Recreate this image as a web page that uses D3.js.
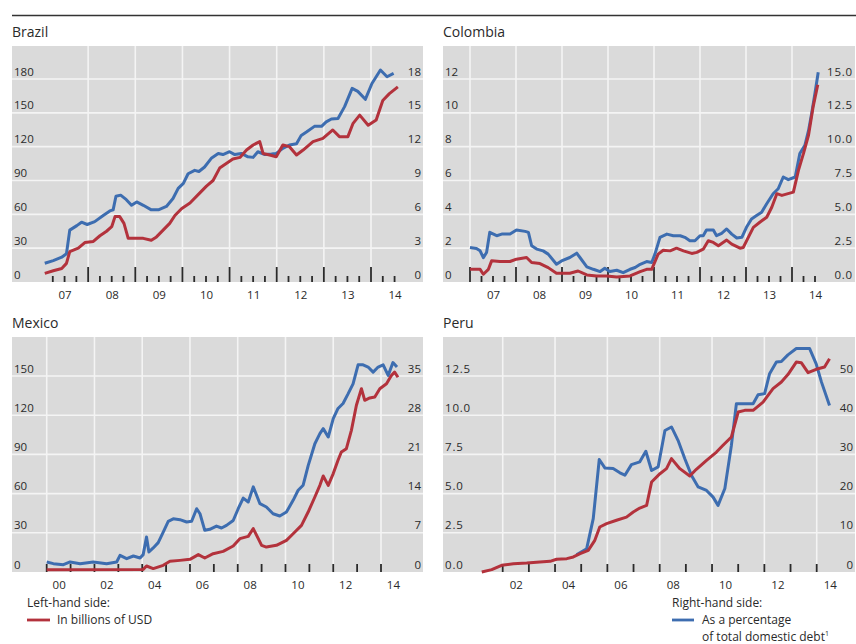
<!DOCTYPE html>
<html>
<head>
<meta charset="utf-8">
<script src="https://cdn.jsdelivr.net/npm/d3@7"></script>
<style>
  html, body { margin: 0; padding: 0; background: #fff; }
  svg { display: block; font-family: "Open Sans", "Liberation Sans", Arial, sans-serif; }
</style>
</head>
<body>
<svg id="chart" width="856" height="644"></svg>
<script>
// ---- Data: [decimal year, value] ----
// Brazil: USD bn (left), % of total domestic debt (right)
const brazilUsd = [[2007.08,7.7],[2007.26,10],[2007.44,12],[2007.54,16.5],[2007.61,27],[2007.79,30],[2007.93,35],[2008.11,36],[2008.25,41],[2008.39,45],[2008.5,49],[2008.57,58],[2008.67,58],[2008.76,52],[2008.85,38.7],[2008.99,38.7],[2009.17,38.7],[2009.34,37],[2009.45,40],[2009.59,46],[2009.73,52],[2009.84,59],[2009.98,65],[2010.16,70],[2010.37,79],[2010.51,85],[2010.65,90],[2010.79,101],[2010.93,105],[2011.07,109],[2011.22,110.5],[2011.36,117],[2011.5,121.5],[2011.64,124.5],[2011.71,114],[2011.85,112.6],[2011.99,111],[2012.13,121.5],[2012.27,120],[2012.42,112.6],[2012.56,117],[2012.77,124.5],[2012.98,127.4],[2013.19,134.8],[2013.33,128.9],[2013.51,128.9],[2013.62,140.7],[2013.76,148],[2013.94,139],[2014.11,143.7],[2014.25,161],[2014.39,167],[2014.57,173]];
const brazilPct = [[2007.08,1.66],[2007.26,1.9],[2007.44,2.2],[2007.54,2.5],[2007.61,4.6],[2007.76,5.0],[2007.86,5.3],[2007.98,5.1],[2008.14,5.35],[2008.32,5.9],[2008.46,6.3],[2008.53,6.4],[2008.59,7.6],[2008.69,7.7],[2008.81,7.3],[2008.92,6.8],[2009.03,7.1],[2009.17,6.8],[2009.34,6.4],[2009.49,6.4],[2009.66,6.7],[2009.8,7.4],[2009.91,8.3],[2010.02,8.75],[2010.12,9.6],[2010.26,9.9],[2010.35,9.8],[2010.47,10.2],[2010.62,11.0],[2010.76,11.4],[2010.86,11.3],[2011.0,11.55],[2011.11,11.3],[2011.25,11.4],[2011.39,11.1],[2011.5,11.05],[2011.6,11.55],[2011.75,11.3],[2011.89,11.35],[2011.99,11.4],[2012.13,11.85],[2012.27,12.15],[2012.42,12.25],[2012.52,13.0],[2012.63,13.3],[2012.8,13.8],[2012.95,13.8],[2013.05,14.2],[2013.16,14.45],[2013.3,14.5],[2013.44,15.55],[2013.6,17.17],[2013.72,16.9],[2013.88,16.2],[2014.02,17.6],[2014.2,18.8],[2014.34,18.2],[2014.48,18.5]];

// Colombia
const colombiaUsd = [[2007.0,0.75],[2007.22,0.75],[2007.29,0.46],[2007.4,0.75],[2007.47,1.25],[2007.65,1.21],[2007.87,1.21],[2008.01,1.35],[2008.23,1.45],[2008.34,1.15],[2008.52,1.09],[2008.7,0.85],[2008.88,0.52],[2009.17,0.52],[2009.35,0.65],[2009.54,0.42],[2009.75,0.36],[2009.97,0.36],[2010.19,0.3],[2010.48,0.36],[2010.7,0.61],[2010.84,0.75],[2010.95,0.75],[2011.09,1.65],[2011.2,1.88],[2011.35,1.84],[2011.49,2.0],[2011.64,1.84],[2011.82,1.69],[2011.93,1.75],[2012.07,1.94],[2012.18,2.44],[2012.29,2.34],[2012.4,2.14],[2012.58,2.48],[2012.69,2.24],[2012.87,2.0],[2012.94,2.04],[2013.05,2.64],[2013.16,3.23],[2013.3,3.53],[2013.45,3.83],[2013.56,4.42],[2013.67,5.22],[2013.78,5.12],[2014.03,5.31],[2014.14,6.6],[2014.25,7.6],[2014.36,8.69],[2014.46,10.37],[2014.56,11.66]];
const colombiaPct = [[2007.0,2.55],[2007.14,2.48],[2007.22,2.3],[2007.29,1.8],[2007.36,2.18],[2007.43,3.67],[2007.58,3.42],[2007.69,3.54],[2007.87,3.54],[2008.01,3.84],[2008.2,3.74],[2008.27,3.67],[2008.34,2.68],[2008.45,2.43],[2008.59,2.3],[2008.7,2.06],[2008.88,1.31],[2008.99,1.56],[2009.17,1.81],[2009.32,2.13],[2009.39,1.81],[2009.54,1.12],[2009.68,0.94],[2009.83,0.77],[2009.93,1.02],[2010.04,0.77],[2010.19,0.87],[2010.33,0.69],[2010.48,0.94],[2010.59,1.07],[2010.7,1.31],[2010.84,1.51],[2010.95,1.44],[2011.02,2.06],[2011.13,3.3],[2011.28,3.54],[2011.42,3.42],[2011.57,3.42],[2011.67,3.3],[2011.78,3.05],[2011.89,3.05],[2012.0,3.42],[2012.07,3.42],[2012.14,3.84],[2012.29,3.84],[2012.36,3.42],[2012.47,3.6],[2012.58,3.92],[2012.69,3.54],[2012.8,3.25],[2012.91,3.3],[2013.01,4.04],[2013.12,4.66],[2013.23,4.91],[2013.34,5.16],[2013.45,5.78],[2013.59,6.52],[2013.7,6.89],[2013.81,7.76],[2013.92,7.56],[2014.07,7.76],[2014.17,9.5],[2014.28,10.1],[2014.36,11.2],[2014.43,12.5],[2014.5,13.96],[2014.57,15.5]];

// Mexico
const mexicoUsd = [[2000.0,1.8],[2004.04,2],[2004.18,4.6],[2004.46,2.6],[2004.88,5.1],[2005.16,8.2],[2005.58,8.9],[2006.0,9.7],[2006.35,13.3],[2006.62,10.7],[2006.97,14.0],[2007.39,15.8],[2007.81,19.9],[2008.09,25.5],[2008.44,27.3],[2008.65,33.2],[2008.86,25.5],[2009.0,20.4],[2009.2,19.1],[2009.62,20.4],[2010.04,24.2],[2010.32,29.3],[2010.67,35.7],[2010.95,45.9],[2011.23,57.4],[2011.44,66.3],[2011.58,73.5],[2011.79,66.3],[2012.0,75.3],[2012.2,85.5],[2012.34,91.8],[2012.55,94.4],[2012.76,108.4],[2012.97,127.6],[2013.18,140.3],[2013.32,131.4],[2013.53,133.2],[2013.74,134],[2013.95,140.3],[2014.23,144],[2014.44,150.5],[2014.57,153],[2014.71,149]];
const mexicoPct = [[2000.0,1.79],[2000.28,1.49],[2000.7,1.31],[2000.98,1.79],[2001.4,1.49],[2001.95,1.79],[2002.51,1.49],[2002.93,1.79],[2003.07,2.98],[2003.35,2.38],[2003.63,2.86],[2003.91,2.5],[2004.04,3.1],[2004.18,6.25],[2004.28,3.57],[2004.46,4.3],[2004.67,5.24],[2004.88,7.14],[2005.09,9.05],[2005.3,9.5],[2005.58,9.35],[2005.86,8.93],[2006.07,9.05],[2006.28,11.3],[2006.42,10.4],[2006.62,7.44],[2006.83,7.62],[2007.11,8.2],[2007.32,7.86],[2007.53,8.33],[2007.81,9.2],[2008.02,11.3],[2008.23,13.2],[2008.44,12.5],[2008.65,15.2],[2008.79,13.7],[2008.93,12.2],[2009.2,11.6],[2009.48,10.4],[2009.76,10.0],[2010.04,10.7],[2010.32,12.8],[2010.53,14.6],[2010.74,15.5],[2010.95,19.0],[2011.23,22.9],[2011.44,24.7],[2011.58,25.6],[2011.79,24.1],[2012.0,27.4],[2012.2,29.2],[2012.41,30.1],[2012.62,31.8],[2012.83,33.6],[2013.04,37.0],[2013.25,37.0],[2013.46,36.6],[2013.67,35.7],[2013.88,36.6],[2014.09,37.0],[2014.3,35.1],[2014.5,37.4],[2014.67,36.6]];

// Peru
const peruUsd = [[2001.2,0],[2001.58,0.15],[2001.96,0.43],[2002.41,0.53],[2002.92,0.57],[2003.42,0.64],[2003.81,0.68],[2004.06,0.81],[2004.45,0.85],[2004.7,0.96],[2004.96,1.17],[2005.27,1.38],[2005.52,2.02],[2005.71,2.87],[2005.97,3.08],[2006.35,3.3],[2006.73,3.5],[2006.99,3.83],[2007.24,4.08],[2007.5,4.25],[2007.69,5.74],[2008.01,6.27],[2008.26,6.59],[2008.45,7.23],[2008.77,6.59],[2009.15,6.12],[2009.4,6.55],[2009.79,7.12],[2010.17,7.65],[2010.42,8.08],[2010.74,8.61],[2011.0,10.2],[2011.25,10.31],[2011.57,10.31],[2011.95,10.84],[2012.33,11.69],[2012.65,12.12],[2012.9,12.59],[2013.22,13.39],[2013.41,13.35],[2013.67,12.71],[2013.98,12.93],[2014.3,13.07],[2014.49,13.6]];
const peruPct = [[2004.82,4.42],[2005.21,5.95],[2005.46,13.6],[2005.69,28.7],[2005.91,26.5],[2006.22,26.4],[2006.48,25.3],[2006.67,24.7],[2006.92,27.4],[2007.24,28.1],[2007.47,30.8],[2007.69,25.9],[2007.94,26.8],[2008.2,36.1],[2008.45,37.0],[2008.7,33.6],[2008.96,28.9],[2009.21,24.7],[2009.47,21.7],[2009.79,20.8],[2010.04,19.1],[2010.23,17.0],[2010.49,21.3],[2010.74,32.3],[2010.93,42.9],[2011.25,42.9],[2011.57,42.9],[2011.76,45.2],[2012.01,45.5],[2012.2,50.6],[2012.46,53.6],[2012.65,53.7],[2012.9,55.4],[2013.22,57.0],[2013.73,57.0],[2013.98,53.1],[2014.18,48.5],[2014.49,42.5]];

// Tick labels
const brazilLeftTicks = [0, 30, 60, 90, 120, 150, 180];
const brazilRightTicks = [0, 3, 6, 9, 12, 15, 18];
const colombiaLeftTicks = [0, 2, 4, 6, 8, 10, 12];
const colombiaRightTicks = [0, 2.5, 5, 7.5, 10, 12.5, 15];
const mexicoLeftTicks = [0, 30, 60, 90, 120, 150];
const mexicoRightTicks = [0, 7, 14, 21, 28, 35];
const peruLeftTicks = [0, 2.5, 5, 7.5, 10, 12.5];
const peruRightTicks = [0, 10, 20, 30, 40, 50];
const yearsBC = [2007, 2008, 2009, 2010, 2011, 2012, 2013, 2014];
const yearsMexico = [2000, 2002, 2004, 2006, 2008, 2010, 2012, 2014];
const yearsPeru = [2002, 2004, 2006, 2008, 2010, 2012, 2014];

const legendLeft = ["Left-hand side:", "In billions of USD"];
const legendRight = ["Right-hand side:", "As a percentage", "of total domestic debt"];

// ---- Styling ----
const BG = "#dadada", GRID = "#f4f4f4", RED = "#b3323c", BLUE = "#3d6db0", INK = "#2a2a2a";
const FONT = "Open Sans, Liberation Sans, Arial, sans-serif";
const LABEL_SIZE = 11.5;
const svg = d3.select("#chart");

// top rule
svg.append("line").attr("x1", 12).attr("x2", 856).attr("y1", 15.5).attr("y2", 15.5)
  .attr("stroke", "#333").attr("stroke-width", 1.3);

const panels = [
  { title: "Brazil", box: [12, 46, 423, 282], xRef: [2007, 41, 2014, 371], yTop: 79,
    left: brazilLeftTicks, right: brazilRightTicks, fmtL: d3.format("d"), fmtR: d3.format("d"),
    usd: brazilUsd, pct: brazilPct, grid: yearsBC.slice(1), labelYears: yearsBC,
    ticks: "quarterly", tickFrom: 2007.25, tickTo: 2014.5 },
  { title: "Colombia", box: [443, 46, 855, 282], xRef: [2007, 470, 2014, 792], yTop: 79,
    left: colombiaLeftTicks, right: colombiaRightTicks, fmtL: d3.format("d"), fmtR: d3.format(".1f"),
    usd: colombiaUsd, pct: colombiaPct, grid: yearsBC, labelYears: yearsBC,
    ticks: "quarterly", tickFrom: 2007, tickTo: 2014.5 },
  { title: "Mexico", box: [12, 337, 423, 572], xRef: [2000, 46.7, 2014, 381], yTop: 376,
    left: mexicoLeftTicks, right: mexicoRightTicks, fmtL: d3.format("d"), fmtR: d3.format("d"),
    usd: mexicoUsd, pct: mexicoPct, grid: yearsMexico, labelYears: yearsMexico,
    ticks: "yearly", tickFrom: 2000, tickTo: 2014 },
  { title: "Peru", box: [443, 337, 855, 572], xRef: [2002, 502.7, 2014, 816.7], yTop: 376,
    left: peruLeftTicks, right: peruRightTicks, fmtL: d3.format(".1f"), fmtR: d3.format("d"),
    usd: peruUsd, pct: peruPct, grid: yearsPeru, labelYears: yearsPeru,
    ticks: "yearly", tickFrom: 2002, tickTo: 2014 }
];

panels.forEach((p, i) => {
  const [x0, y0, x1, y1] = p.box;
  const x = d3.scaleLinear().domain([p.xRef[0], p.xRef[2]]).range([p.xRef[1], p.xRef[3]]);
  const yL = d3.scaleLinear().domain([0, d3.max(p.left)]).range([y1, p.yTop]);
  const yR = d3.scaleLinear().domain([0, d3.max(p.right)]).range([y1, p.yTop]);

  const g = svg.append("g");
  const clipId = "clip" + i;
  svg.append("clipPath").attr("id", clipId).append("rect")
    .attr("x", x0).attr("y", y0 - 12).attr("width", x1 - x0).attr("height", y1 - y0 + 14);

  g.append("text").attr("x", x0).attr("y", y0 - 9).text(p.title)
    .attr("font-size", 14).attr("fill", INK);

  g.append("rect").attr("x", x0).attr("y", y0).attr("width", x1 - x0).attr("height", y1 - y0)
    .attr("fill", BG);

  // horizontal gridlines
  g.selectAll(null).data(p.left.filter(d => d > 0)).join("line")
    .attr("x1", x0).attr("x2", x1)
    .attr("y1", d => yL(d)).attr("y2", d => yL(d))
    .attr("stroke", GRID).attr("stroke-width", 1.6);
  // vertical gridlines
  g.selectAll(null).data(p.grid).join("line")
    .attr("x1", d => x(d)).attr("x2", d => x(d))
    .attr("y1", y0).attr("y2", y1)
    .attr("stroke", GRID).attr("stroke-width", 1.6);

  // small tick marks along the base
  const tickData = [];
  if (p.ticks === "quarterly") {
    for (let t = p.tickFrom; t <= p.tickTo + 1e-6; t += 0.25) tickData.push({ t, major: Math.abs(t - Math.round(t)) < 1e-6 });
  } else {
    for (let t = p.tickFrom; t <= p.tickTo; t += 1) tickData.push({ t, major: false });
  }
  g.selectAll(null).data(tickData).join("line")
    .attr("x1", d => x(d.t)).attr("x2", d => x(d.t))
    .attr("y1", d => y1 - (p.ticks === "quarterly" ? (d.major ? 15 : 6) : 8)).attr("y2", y1)
    .attr("stroke", INK).attr("stroke-width", 1.8);

  // y labels inside the plot (left & right)
  const axL = g.append("g").attr("transform", `translate(${x0 + 2},0)`)
    .call(d3.axisRight(yL).tickValues(p.left).tickSize(0).tickPadding(0).tickFormat(p.fmtL));
  const axR = g.append("g").attr("transform", `translate(${x1 - 2},0)`)
    .call(d3.axisLeft(yR).tickValues(p.right).tickSize(0).tickPadding(0).tickFormat(p.fmtR));
  [axL, axR].forEach(a => {
    a.select(".domain").remove();
    a.selectAll("text").attr("dy", -4).attr("font-size", LABEL_SIZE).attr("fill", INK)
      .attr("font-family", FONT)
      .attr("letter-spacing", function () { return this.textContent.includes(".") ? 0.8 : 0; });
  });

  // year labels under the plot
  const yrFmt = d => String(d % 100).padStart(2, "0");
  const axX = g.append("g").attr("transform", `translate(0,${y1})`)
    .call(d3.axisBottom(x).tickValues(p.labelYears.map(d => d + 0.5)).tickSize(0).tickPadding(9)
      .tickFormat(d => yrFmt(Math.floor(d))));
  axX.select(".domain").remove();
  axX.selectAll("text").attr("font-size", LABEL_SIZE).attr("fill", INK).attr("font-family", FONT);

  // series
  const lineL = d3.line().x(d => x(d[0])).y(d => yL(d[1]));
  const lineR = d3.line().x(d => x(d[0])).y(d => yR(d[1]));
  const lg = g.append("g").attr("clip-path", `url(#${clipId})`);
  lg.append("path").datum(p.pct).attr("d", lineR).attr("fill", "none")
    .attr("stroke", BLUE).attr("stroke-width", 3).attr("stroke-linejoin", "round");
  lg.append("path").datum(p.usd).attr("d", lineL).attr("fill", "none")
    .attr("stroke", RED).attr("stroke-width", 3).attr("stroke-linejoin", "round");
});

// legends
const LEG_SIZE = 12;
const lgL = svg.append("g").attr("font-size", LEG_SIZE).attr("fill", INK);
lgL.append("text").attr("x", 27).attr("y", 607).text(legendLeft[0]);
lgL.append("line").attr("x1", 27).attr("x2", 50).attr("y1", 620).attr("y2", 620)
  .attr("stroke", RED).attr("stroke-width", 2.8);
lgL.append("text").attr("x", 57).attr("y", 624).text(legendLeft[1]);

const lgR = svg.append("g").attr("font-size", LEG_SIZE).attr("fill", INK);
lgR.append("text").attr("x", 672).attr("y", 607).text(legendRight[0]);
lgR.append("line").attr("x1", 672).attr("x2", 694).attr("y1", 620).attr("y2", 620)
  .attr("stroke", BLUE).attr("stroke-width", 2.8);
lgR.append("text").attr("x", 702).attr("y", 623.5).text(legendRight[1]);
const last = lgR.append("text").attr("x", 702).attr("y", 640.5).text(legendRight[2]);
last.append("tspan").attr("dy", -5).attr("font-size", 7).text("1");
</script>
</body>
</html>
